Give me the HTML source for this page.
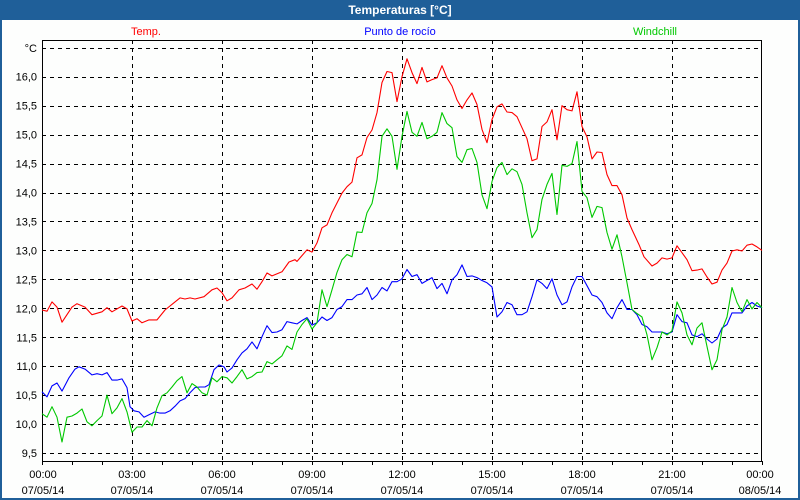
<!DOCTYPE html>
<html><head><meta charset="utf-8">
<style>
html,body{margin:0;padding:0;background:#fff;}
#wrap{position:relative;width:800px;height:500px;background:#fdfefd;box-sizing:border-box;border:2px solid #1f5f99;border-top:none;overflow:hidden;font-family:"Liberation Sans","DejaVu Sans",sans-serif;}
#title{position:absolute;left:0;top:0;width:800px;height:20px;background:#1f5f99;color:#fff;font-weight:bold;font-size:12px;line-height:20px;text-align:center;margin-left:-2px;}
svg{position:absolute;left:-2px;top:0;}
</style></head><body>
<div id="wrap">
<div id="title">Temperaturas [°C]</div>
<svg id="chart" width="800" height="500" font-family="Liberation Sans, DejaVu Sans, sans-serif" font-size="11"></svg>
</div>
<script>
const yTicks=[16.0,15.5,15.0,14.5,14.0,13.5,13.0,12.5,12.0,11.5,11.0,10.5,10.0,9.5];
const xTickMinutes=[0,180,360,540,720,900,1080,1260,1440];
const xTickTimes=["00:00","03:00","06:00","09:00","12:00","15:00","18:00","21:00","00:00"];
const xTickDates=["07/05/14","07/05/14","07/05/14","07/05/14","07/05/14","07/05/14","07/05/14","07/05/14","08/05/14"];
const seriesNames=["Temp.","Punto de rocío","Windchill"];
const tempMinutes=[0,10,20,30,40,60,70,86,100,120,130,140,160,170,180,190,200,214,230,246,266,276,286,296,306,324,340,350,360,370,380,394,406,420,430,440,450,460,480,494,506,510,530,540,550,560,570,580,600,610,620,630,640,650,660,670,680,690,700,710,720,730,740,750,760,770,780,790,800,810,820,830,840,850,860,870,880,890,900,910,920,930,940,950,960,970,980,990,1000,1010,1020,1030,1040,1050,1060,1070,1080,1090,1100,1110,1120,1130,1140,1150,1160,1170,1180,1194,1204,1220,1230,1240,1250,1260,1270,1280,1290,1300,1310,1320,1330,1340,1350,1360,1370,1380,1390,1400,1410,1420,1430,1440];
const tempValues=[11.97,11.95,12.11,12.02,11.76,12.02,12.08,12.02,11.89,11.94,12.01,11.94,12.04,11.99,11.78,11.82,11.75,11.80,11.80,11.97,12.11,12.18,12.16,12.18,12.16,12.20,12.32,12.35,12.27,12.13,12.18,12.32,12.35,12.42,12.33,12.46,12.61,12.56,12.63,12.80,12.84,12.81,13.01,12.97,13.13,13.39,13.44,13.65,13.99,14.10,14.18,14.60,14.65,14.95,15.08,15.38,15.90,16.09,16.07,15.57,16.00,16.31,16.07,15.88,16.16,15.91,15.95,15.98,16.19,15.98,15.84,15.60,15.45,15.60,15.72,15.52,15.09,14.86,15.26,15.48,15.53,15.39,15.38,15.31,15.12,14.93,14.55,14.58,15.14,15.22,15.43,14.91,15.50,15.43,15.41,15.74,15.14,14.96,14.58,14.70,14.69,14.31,14.12,14.12,13.96,13.56,13.36,13.10,12.89,12.73,12.78,12.87,12.85,12.87,13.08,12.96,12.84,12.65,12.66,12.68,12.54,12.42,12.45,12.66,12.78,12.99,13.01,12.99,13.09,13.11,13.06,13.00];
const dewMinutes=[0,10,20,30,40,54,66,74,86,100,110,120,130,140,150,160,170,176,184,194,204,214,226,236,246,256,266,276,286,296,306,316,326,334,344,354,364,370,380,390,400,410,420,430,440,450,460,470,480,490,500,510,520,530,540,550,560,570,580,590,600,610,620,630,640,650,660,670,680,690,700,710,720,730,740,750,760,770,780,790,800,810,820,830,840,850,860,870,880,890,900,910,920,930,940,950,960,970,980,990,1000,1010,1020,1030,1040,1050,1060,1070,1080,1090,1100,1110,1120,1130,1140,1150,1160,1170,1180,1190,1200,1210,1220,1230,1240,1250,1260,1270,1280,1290,1300,1310,1320,1330,1340,1350,1360,1370,1380,1390,1400,1410,1420,1430,1440];
const dewValues=[10.56,10.47,10.66,10.71,10.57,10.80,10.95,10.99,10.95,10.85,10.87,10.85,10.89,10.76,10.76,10.78,10.63,10.30,10.23,10.21,10.12,10.16,10.21,10.19,10.19,10.23,10.31,10.40,10.44,10.54,10.63,10.64,10.64,10.68,10.94,11.02,10.99,10.90,10.97,11.11,11.23,11.30,11.42,11.30,11.51,11.70,11.58,11.59,11.63,11.77,11.75,11.73,11.79,11.84,11.71,11.75,11.85,11.79,11.84,11.98,12.03,12.15,12.15,12.23,12.25,12.36,12.15,12.23,12.36,12.30,12.46,12.46,12.51,12.67,12.55,12.58,12.43,12.48,12.53,12.34,12.43,12.25,12.49,12.58,12.75,12.55,12.56,12.53,12.48,12.44,12.37,11.85,11.94,12.10,12.06,11.89,11.89,11.94,12.20,12.49,12.43,12.34,12.51,12.23,12.06,12.11,12.37,12.55,12.55,12.39,12.23,12.20,12.10,11.92,11.82,12.01,12.15,11.98,11.98,11.89,11.72,11.68,11.59,11.59,11.59,11.56,11.59,11.89,11.77,11.75,11.54,11.51,11.56,11.47,11.40,11.47,11.66,11.72,11.92,11.92,11.92,12.04,12.10,12.04,12.01];
const windValues=[10.18,10.12,10.30,10.12,9.69,10.12,10.14,10.19,10.26,10.04,9.97,10.06,10.14,10.50,10.18,10.28,10.44,10.21,9.86,9.95,9.95,10.06,9.97,10.28,10.49,10.54,10.64,10.75,10.82,10.54,10.70,10.64,10.54,10.50,10.80,10.73,10.82,10.80,10.71,10.82,10.94,10.78,10.82,10.89,10.90,11.08,11.04,11.11,11.18,11.35,11.29,11.59,11.72,11.82,11.64,11.75,12.32,12.03,12.32,12.62,12.84,12.93,12.89,13.32,13.31,13.65,13.81,14.22,14.97,15.10,14.97,14.40,14.97,15.40,15.04,14.97,15.21,14.93,14.97,15.04,15.38,15.19,15.12,14.62,14.52,14.74,14.76,14.52,13.96,13.72,14.19,14.43,14.52,14.31,14.41,14.36,14.14,13.65,13.22,13.36,13.88,14.14,14.33,13.62,14.47,14.45,14.50,14.88,14.02,13.91,13.57,13.76,13.74,13.31,13.02,13.27,12.89,12.44,11.98,11.91,11.85,11.54,11.11,11.32,11.59,11.54,11.61,12.11,11.92,11.54,11.37,11.66,11.75,11.34,10.94,11.11,11.63,11.85,12.36,12.10,11.94,12.15,11.99,12.10,12.01];
const windStepMinutes=10;

const NS="http://www.w3.org/2000/svg";
const svg=document.getElementById('chart');
const L=42,R=762,T=40,B=461;
function xs(m){return L+(m/1440)*(R-L);}
function ys(v){return 76.7+(16-v)*57.9;}
function mk(tag,attrs,parent){const e=document.createElementNS(NS,tag);for(const k in attrs)e.setAttribute(k,attrs[k]);(parent||svg).appendChild(e);return e;}

// gridlines
const grid=mk('g',{stroke:'#000','stroke-width':1,'stroke-dasharray':'4,4','shape-rendering':'crispEdges'});


[16.5].concat(yTicks).forEach(v=>{mk('line',{x1:L,x2:R,y1:Math.round(ys(v))+0.5,y2:Math.round(ys(v))+0.5},grid);});
xTickMinutes.slice(1,-1).forEach(m=>{mk('line',{x1:Math.round(xs(m))+0.5,x2:Math.round(xs(m))+0.5,y1:T,y2:B},grid);});

// axes frame
const frame=mk('rect',{x:L+0.5,y:T+0.5,width:R-L-1,height:B-T,fill:'none',stroke:'#000','stroke-width':1,'shape-rendering':'crispEdges'});



// hourly ticks
const ticks=mk('g',{stroke:'#000','shape-rendering':'crispEdges'});


for(let h=0;h<=24;h++){const x=Math.round(xs(h*60))+0.5;mk('line',{x1:x,x2:x,y1:B,y2:B+4},ticks);}

// y labels
const yl=mk('g',{'text-anchor':'end',fill:'#000'});


yTicks.forEach(v=>{const t=mk('text',{x:37,y:ys(v)+4},yl);t.textContent=v.toFixed(1).replace('.',',');

});
const unit=mk('text',{x:37,y:ys(16.5)+4,'text-anchor':'end'});unit.textContent='°C';



// x labels
const xl=mk('g',{'text-anchor':'middle',fill:'#000'});


xTickMinutes.forEach((m,i)=>{let x=xs(m);if(i===0)x=L+1;if(i===xTickMinutes.length-1)x=R-2;
const a=mk('text',{x:x,y:478},xl);a.textContent=xTickTimes[i];


const b=mk('text',{x:x,y:494},xl);b.textContent=xTickDates[i];

});

// legend
const legColors=['#ff0000','#0000ff','#00c800'];
const legX=[146,400,655];
seriesNames.forEach((n,i)=>{const t=mk('text',{x:legX[i],y:35,'text-anchor':'middle',fill:legColors[i]});t.textContent=n;

});

// series
function line(ms,vs,color,name){const p=ms.map((m,i)=>xs(m).toFixed(1)+','+ys(vs[i]).toFixed(1)).join(' ');
const e=mk('polyline',{points:p,fill:'none',stroke:color,'stroke-width':1.1,'stroke-linejoin':'round'});

}
line(tempMinutes,tempValues,'#ff0000','temp-line');
line(dewMinutes,dewValues,'#0000ff','dew-point-line');
line(windValues.map((v,i)=>i*windStepMinutes),windValues,'#00c800','windchill-line');
</script>
</body></html>
